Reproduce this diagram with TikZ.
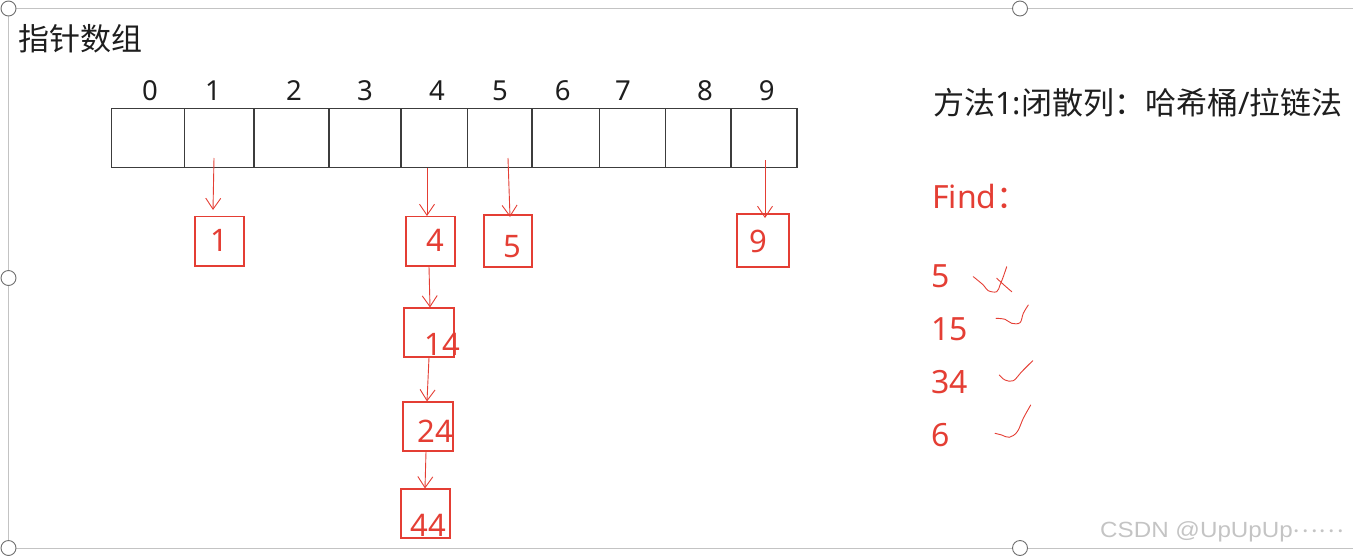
\documentclass[tikz,border=0pt]{standalone}
\usepackage{fontspec}
\setmainfont{Noto Sans}
\newfontfamily\cjk{Noto Sans CJK SC}
\newfontfamily\wmfont{Liberation Sans}
\usetikzlibrary{arrows.meta,calc}
\definecolor{inkred}{RGB}{228,62,52}
\definecolor{framegray}{RGB}{195,195,195}
\definecolor{handlegray}{RGB}{110,110,110}
\definecolor{cellline}{RGB}{60,60,60}
\definecolor{wmgray}{RGB}{196,196,196}
\definecolor{textdark}{RGB}{30,30,30}
\begin{document}
\begin{tikzpicture}[x=1pt,y=-1pt,
  cell/.style={draw=cellline,line width=1.2pt,minimum height=59.4pt,inner sep=0pt},
  idx/.style={font=\fontsize{27.5}{27.5}\selectfont,text=textdark,inner sep=0pt},
  bucket/.style={draw=inkred,line width=1.1pt,inner sep=0pt},
  num/.style={text=inkred,inner sep=0pt,font=\fontsize{31}{31}\selectfont},
  ptr/.style={draw=inkred,line width=0.9pt,-{Straight Barb[length=11pt,width=15pt,line width=0.9pt]}},
  tick/.style={draw=inkred,line width=0.9pt,line cap=round,line join=round},
  handle/.style={circle,draw=handlegray,fill=white,line width=0.9pt,minimum size=15pt,inner sep=0pt},
  heading/.style={font=\fontsize{31}{31}\selectfont,text=textdark,inner sep=0pt,anchor=west},
  findtxt/.style={font=\fontsize{32}{32}\selectfont,text=inkred,inner sep=0pt,anchor=west}
]
\useasboundingbox (0,0) rectangle (1353,555);

% selection frame
\draw[framegray,line width=1pt] (1353,8.5) -- (8.5,8.5) -- (8.5,548) -- (1353,548);
\node[handle] (h1) at (8.5,8.5) {};
\node[handle] (h2) at (1020,8.5) {};
\node[handle] (h3) at (8.5,278) {};
\node[handle] (h4) at (8.5,548) {};
\node[handle] (h5) at (1020,548) {};

% title
\node[heading,font=\fontsize{31}{31}\selectfont\cjk] (title) at (18,39) {指针数组};

% array cells
\foreach \l/\r/\i in {111.5/184.5/0,184.5/254/1,254/329/2,329/401/3,401/467.5/4,467.5/532/5,532/599.5/6,599.5/665.5/7,665.5/731/8,731/797/9}
  \node[cell,minimum width={\r-\l}] (c\i) at ({(\l+\r)/2},138) {};

% indices
\foreach \x/\i in {150/0,213/1,294/2,365/3,437/4,500/5,562.7/6,623/7,705/8,766.7/9}
  \node[idx] (n\i) at (\x,90.7) {\i};

% buckets
\node[bucket,minimum width=49pt,minimum height=49.3pt,label={[num,xshift=-0.5pt,yshift=1pt]center:1}] (b1) at (219.5,241.3) {};
\node[bucket,minimum width=49pt,minimum height=49.3pt,label={[num,xshift=4.5pt,yshift=0.5pt]center:4}] (b4) at (430.5,241.3) {};
\node[bucket,minimum width=48pt,minimum height=52pt,label={[num,xshift=4.5pt,yshift=-5.7pt]center:5}] (b5) at (508,241) {};
\node[bucket,minimum width=52pt,minimum height=53pt,label={[num,xshift=-5pt,yshift=-1pt]center:9}] (b9) at (763,240.5) {};
\node[bucket,minimum width=50pt,minimum height=49pt,label={[num,xshift=13.5pt,yshift=-11.5pt]center:14}] (b14) at (429,332.5) {};
\node[bucket,minimum width=50pt,minimum height=49pt,label={[num,xshift=7.3pt,yshift=-5.2pt]center:24}] (b24) at (428,426.5) {};
\node[bucket,minimum width=49pt,minimum height=49pt,label={[num,xshift=2.8pt,yshift=-11.5pt]center:44}] (b44) at (425.5,513.5) {};

% pointers
\coordinate (s1) at (214,158);  \coordinate (e1) at (213,210);
\coordinate (s4) at (427,168);  \coordinate (e4) at (427,216);
\coordinate (s5) at (508,158);  \coordinate (e5) at (510,217);
\coordinate (s9) at (765,160);  \coordinate (e9) at (765,218);
\draw[ptr] (s1) -- (e1);
\draw[ptr] (s4) -- (e4);
\draw[ptr] (s5) -- (e5);
\draw[ptr] (s9) -- (e9);
\draw[ptr] ([xshift=-1.5pt]b4.south) -- ([xshift=1pt]b14.north);
\draw[ptr] ([xshift=0pt]b14.south) -- ([xshift=-1pt]b24.north);
\draw[ptr] ([xshift=-2pt]b24.south) -- ([xshift=-0.5pt]b44.north);

% right side
\node[heading] (method) at (933,103) {{\cjk 方法}1:{\cjk 闭散列：哈希桶}/{\cjk 拉链法}};
\node[findtxt] (find) at (932,196.7) {Find{\cjk ：}};
\node[findtxt] (q5) at (931,276.7) {5};
\node[findtxt] (q15) at (931,329) {15};
\node[findtxt] (q34) at (931,381.7) {34};
\node[findtxt] (q6) at (931,435) {6};

% hand-drawn ticks
\draw[tick] plot[smooth,tension=0.6] coordinates {(973.3,276.7) (983.3,285) (988.3,290.7) (996.7,291.7) (1000,285) (1003.3,276.7) (1006.7,266.7)};
\draw[tick] (996.7,278.3) -- (1004,285) -- (1011.7,291.7);
\draw[tick] plot[smooth,tension=0.6] coordinates {(996,318.3) (1005,319.3) (1011.7,323.3) (1020,322.7) (1023.3,313.3) (1028.3,305)};
\draw[tick] plot[smooth,tension=0.6] coordinates {(999.3,375) (1005,380) (1013.3,380.7) (1021.7,371.7) (1032.7,360.7)};
\draw[tick] plot[smooth,tension=0.6] coordinates {(995,433.3) (1001.7,435) (1009.3,437.3) (1017.3,431.7) (1023.3,418.3) (1030.7,405)};

% watermark
\node[inner sep=0pt,anchor=west,text=wmgray,xscale=1.1,font=\fontsize{22}{22}\selectfont] (wm) at (1100,531.7) {{\wmfont CSDN @UpUpUp}\raisebox{5pt}{\cjk ……}};
\end{tikzpicture}
\end{document}
